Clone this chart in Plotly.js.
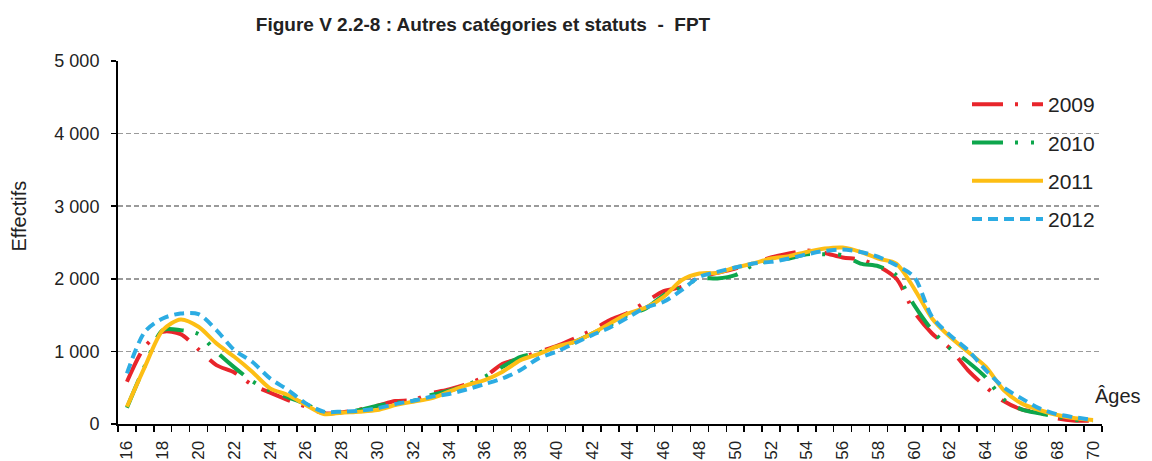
<!DOCTYPE html>
<html>
<head>
<meta charset="utf-8">
<script src="https://cdn.plot.ly/plotly-3.0.1.min.js"></script>
<style>
html,body{margin:0;padding:0;background:#fff;}
#chart{width:1152px;height:461px;}
</style>
</head>
<body>
<div id="chart"></div>
<script>
// ---- Data ----
const ages = [16,17,18,19,20,21,22,23,24,25,26,27,28,29,30,31,32,33,34,35,36,37,38,39,40,41,42,43,
              44,45,46,47,48,49,50,51,52,53,54,55,56,57,58,59,60,61,62,63,64,65,66,67,68,69,70];

const y2009 = [582,1064,1270,1238,1027,811,711,540,431,330,238,147,160,200,252,316,330,422,477,550,
               651,830,904,995,1073,1179,1293,1431,1531,1683,1829,1889,2026,2082,2141,2210,2293,2348,2390,2356,
               2293,2265,2173,2004,1545,1247,1041,743,513,316,202,156,78,46,45];

const y2010 = [225,800,1293,1293,1238,995,780,590,458,367,275,156,163,193,252,293,321,399,458,536,
               651,789,926,981,1064,1132,1247,1362,1500,1592,1775,1880,2004,2004,2050,2187,2256,2279,2338,2338,
               2325,2210,2173,2050,1637,1293,1041,857,642,340,202,147,101,55,50];

const y2011 = [238,788,1293,1440,1339,1110,926,720,491,399,261,137,156,170,193,261,307,353,445,536,
               605,720,880,963,1064,1132,1247,1385,1522,1605,1752,1981,2073,2082,2155,2210,2279,2311,2370,2416,
               2430,2370,2279,2210,1866,1454,1201,995,789,468,284,193,124,78,55];

const y2012 = [697,1270,1454,1522,1513,1293,1018,857,628,468,284,170,170,183,216,275,321,376,413,477,
               550,628,743,904,995,1110,1224,1330,1468,1605,1683,1843,2026,2095,2155,2210,2233,2279,2338,2384,
               2403,2370,2302,2187,2026,1476,1224,1018,743,505,353,216,133,92,55];

const seriesNames = ["2009","2010","2011","2012"];
const xTickVals = [16,18,20,22,24,26,28,30,32,34,36,38,40,42,44,46,48,50,52,54,56,58,60,62,64,66,68,70];
const yTickVals = [0,1000,2000,3000,4000,5000];
const yTickText = ["0","1 000","2 000","3 000","4 000","5 000"];

const titleText = "Figure V 2.2-8 : Autres catégories et statuts \u00a0-\u00a0 FPT";
const yTitle = "Effectifs";
const xTitle = "Âges";

// ---- Styles ----
const FONT = "'Liberation Sans', Arial, sans-serif";
const colors = ["#E8252B", "#0DA64C", "#FDBE14", "#2CACE3"];
const dashes = ["31px,12px,3px,14px", "31px,12px,3px,13px,3px,14px", "solid", "10px,6px"];
const values = [y2009, y2010, y2011, y2012];

const traces = values.map((v, i) => ({
  x: ages,
  y: v,
  type: "scatter",
  mode: "lines",
  name: seriesNames[i],
  legendgroup: "g" + i,
  line: {color: colors[i], width: 4, dash: dashes[i], shape: "spline", smoothing: 0.8},
  hoverinfo: "x+y+name"
}));

const boundaries = ages.map(a => a - 0.5).concat([ages[ages.length - 1] + 0.5]);

const layout = {
  width: 1152,
  height: 461,
  margin: {l: 118, r: 50, t: 61, b: 37, pad: 0},
  paper_bgcolor: "#fff",
  plot_bgcolor: "#fff",
  font: {family: FONT, color: "#222", size: 18},
  title: {
    text: "<b>" + titleText + "</b>",
    font: {family: FONT, size: 19, color: "#222"},
    xref: "container", x: 483 / 1152, xanchor: "center",
    yref: "container", y: 1 - 24 / 461, yanchor: "middle"
  },
  xaxis: {
    type: "linear",
    range: [ages[0] - 0.5, ages[ages.length - 1] + 0.5],
    tickmode: "array",
    tickvals: xTickVals,
    ticktext: xTickVals.map(String),
    tickangle: -90,
    ticks: "",
    ticklabelstandoff: 8,
    tickfont: {family: FONT, size: 17, color: "#222"},
    showgrid: false,
    zeroline: false,
    showline: true,
    linecolor: "#000",
    linewidth: 2,
    minor: {tickmode: "array", tickvals: boundaries, ticks: "outside", ticklen: 6, tickwidth: 1.5, tickcolor: "#000", showgrid: false},
    fixedrange: true
  },
  yaxis: {
    range: [0, 5000],
    tickmode: "array",
    tickvals: yTickVals,
    ticktext: yTickText,
    ticks: "outside",
    ticklen: 5,
    tickwidth: 1.5,
    tickcolor: "#000",
    ticklabelstandoff: 8,
    tickfont: {family: FONT, size: 18, color: "#222"},
    showgrid: true,
    gridcolor: "#9a9a9a",
    gridwidth: 1.5,
    griddash: "5px,3px",
    zeroline: false,
    showline: true,
    linecolor: "#000",
    linewidth: 2,
    fixedrange: true
  },
  showlegend: true,
  legend: {
    x: (967 - 118) / 984, xanchor: "left",
    y: (424 - 84) / 363, yanchor: "top",
    bgcolor: "rgba(0,0,0,0)",
    borderwidth: 0,
    font: {family: FONT, size: 21, color: "#222"},
    itemwidth: 71,
    tracegroupgap: 8,
    traceorder: "grouped"
  },
  annotations: [
    {
      text: yTitle, xref: "paper", yref: "paper",
      x: (18.5 - 118) / 984, y: (424 - 216) / 363,
      xanchor: "center", yanchor: "middle", textangle: -90, showarrow: false,
      font: {family: FONT, size: 20, color: "#222"}
    },
    {
      text: xTitle, xref: "paper", yref: "paper",
      x: (1093 - 118) / 984, y: (424 - 396) / 363,
      xanchor: "left", yanchor: "middle", showarrow: false,
      font: {family: FONT, size: 20, color: "#222"}
    }
  ]
};

function stretchLegendLines() {
  document.querySelectorAll("#chart .legend path.js-line").forEach(p => {
    p.setAttribute("d", "M5,0h71");
  });
}

const gd = document.getElementById("chart");
Plotly.newPlot(gd, traces, layout, {displayModeBar: false, staticPlot: true}).then(() => {
  stretchLegendLines();
  gd.on && gd.on("plotly_afterplot", stretchLegendLines);
});
</script>
</body>
</html>
